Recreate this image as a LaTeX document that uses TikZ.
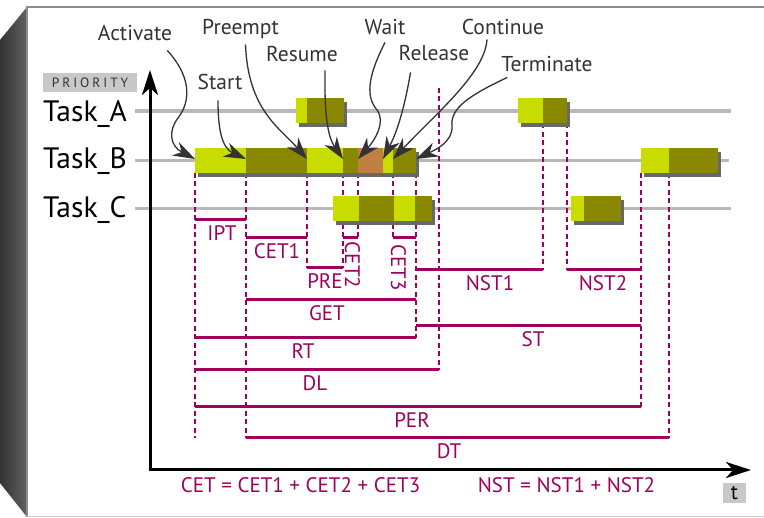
\documentclass[tikz,border=0pt]{standalone}
\usepackage{fontspec}
\setmainfont{PT Sans}
\usepackage{tikz}
\usetikzlibrary{arrows.meta}
\definecolor{limec}{HTML}{C8DC00}
\definecolor{olivc}{HTML}{8A8800}
\definecolor{waitc}{HTML}{C08040}
\definecolor{shdc}{HTML}{686868}
\definecolor{magc}{HTML}{A0005C}
\definecolor{linec}{HTML}{B8B8B8}
\definecolor{txtc}{HTML}{333333}
\definecolor{boxc}{HTML}{C8C8C8}
\tikzset{
  ar/.style={-{Stealth[length=22pt,width=15pt,inset=7pt]},line width=1.3pt,txtc},
  ax/.style={-{Stealth[length=25pt,width=16pt,inset=7pt]},line width=3pt,black},
  ev/.style={font=\fontsize{21.5}{24}\selectfont,txtc,anchor=base,inner sep=1pt},
  tk/.style={font=\fontsize{29.5}{32}\selectfont,black,anchor=base west,inner sep=0pt},
  tl/.style={line width=3.2pt,linec},
  dsh/.style={magc,line width=1.4pt,dash pattern=on 5pt off 3.5pt},
  ms/.style={magc,line width=3pt},
  ml/.style={font=\fontsize{21}{23}\selectfont,magc,inner sep=1pt}
}
\begin{document}
\begin{tikzpicture}[x=1pt,y=-1pt]
\useasboundingbox (0,0) rectangle (764,518);
\fill[white] (0,0) rectangle (764,518);
\shade[left color=black!80,right color=black!62] (0,40) -- (27,7) -- (27,517) -- (0,483) -- cycle;
\draw[black!45,line width=1.5pt] (27,517) -- (27,7) -- (764,7);
\draw[black!20,line width=1.2pt] (27,516.5) -- (764,516.5);
\foreach \y/\xe in {111/731,160.5/729,208.5/731}
  \draw[tl] (135,\y) -- (\xe,\y);
\foreach \x/\ya/\yb in {195/173/438,246/173/438,307/173/268,343/173/268,358/173/238,393/173/238,416/173/338,439/88/370,543/123.5/270,567/123.5/270,641/173/407,669/173/438}
  \draw[dsh] (\x,\ya) -- (\x,\yb);
\foreach \xa/\xb/\yt in {296/344/98.5,518/567/98.5,195/416/148,641/718/148,333/432/196,571/621/196}
  \fill[shdc] (\xa+3,\yt+4) rectangle (\xb+3,\yt+29);
\foreach \xa/\xb/\yt/\cl in {296/307/98.5/limec,307/344/98.5/olivc,518/543/98.5/limec,543/567/98.5/olivc,
  195/246/148/limec,246/307/148/olivc,307/343/148/limec,343/358/148/olivc,358/383/148/waitc,383/393/148/limec,393/416/148/olivc,
  641/669/148/limec,669/718/148/olivc,333/359/196/limec,359/394/196/olivc,394/415/196/limec,415/432/196/olivc,
  571/584/196/limec,584/621/196/olivc}
  \fill[\cl] (\xa,\yt) rectangle (\xb,\yt+25);
\foreach \xa/\xb/\y/\t/\xt in {195/246/220/IPT/222,246/307/238/CET1/277,307/343/268/PRE/325,416/543/270/NST1/490,567/641/270/NST2/603,
  246/416/300/GET/327,416/641/326/ST/533,195/416/338/RT/303,195/439/370/DL/315,195/641/407/PER/412,246/669/438/DT/449}{
  \draw[ms] (\xa,\y) -- (\xb,\y);
  \node[ml] (l\t) at (\xt,\y+13) {\t};}
\draw[ms] (343,238) -- (358,238);
\node[ml,rotate=-90] (lCET2) at (352.5,265) {CET2};
\draw[ms] (393,238) -- (416,238);
\node[ml,rotate=-90] (lCET3) at (398.5,267.5) {CET3};
\node[ml] (fCET) at (300.5,485) {CET = CET1 + CET2 + CET3};
\node[ml] (fNST) at (566.5,485) {NST = NST1 + NST2};
\coordinate (org) at (150,470);
\coordinate (ytop) at (150,70);
\coordinate (xend) at (751,470);
\draw[ax] ([yshift=-1.5pt]org) -- (ytop);
\draw[ax] ([xshift=-1.5pt]org) -- (xend);
\node[fill=boxc,minimum width=94pt,minimum height=19pt,inner sep=0pt,text=txtc,font=\fontsize{13.5}{15}\selectfont\addfontfeatures{LetterSpace=22}] (prio) at (90,82.5) {PRIORITY};
\node[fill=boxc,minimum width=23pt,minimum height=20pt,inner sep=0pt,font=\fontsize{21}{23}\selectfont] (tlab) at (734.5,493) {t};
\node[tk] (tA) at (43,121.5) {Task\_A};
\node[tk] (tB) at (43,169) {Task\_B};
\node[tk] (tC) at (43,218) {Task\_C};
\node[ev] (nAct) at (135,41) {Activate};
\node[ev] (nSta) at (220,90) {Start};
\node[ev] (nPre) at (240.5,35) {Preempt};
\node[ev] (nRes) at (302,62) {Resume};
\node[ev] (nWai) at (385,35) {Wait};
\node[ev] (nRel) at (434,61) {Release};
\node[ev] (nCon) at (503,35) {Continue};
\node[ev] (nTer) at (547,72) {Terminate};
\foreach \n/\x in {Act/195,Sta/246,Pre/307,Res/343,Wai/358,Rel/383,Con/393,Ter/416}
  \coordinate (p\n) at (\x,159);
\draw[ar] ([xshift=-6pt,yshift=-8pt]nAct.south east) .. controls (190,75) and (192,100) .. (178,118) .. controls (168,131) and (170,146) .. (pAct);
\draw[ar] ([xshift=-2pt,yshift=-9pt]nSta.south) .. controls (218,130) and (222,148) .. (pSta);
\draw[ar] ([xshift=5pt,yshift=-4pt]nPre.south) .. controls (248,110) and (280,128) .. (pPre);
\draw[ar] ([xshift=-14pt,yshift=-7pt]nRes.south east) .. controls (324,125) and (330,140) .. (pRes);
\draw[ar] ([yshift=-6pt]nWai.south) .. controls (370,72) and (364,95) .. (377,110) .. controls (386,122) and (375,140) .. (pWai);
\draw[ar] ([xshift=13pt,yshift=-10pt]nRel.south west) .. controls (405,105) and (398,130) .. (pRel);
\draw[ar] ([xshift=-16pt,yshift=-3pt]nCon.south) .. controls (485,72) and (440,110) .. (pCon);
\draw[ar] ([xshift=7pt,yshift=-4pt]nTer.south west) .. controls (470,95) and (450,108) .. (452,126) .. controls (453,142) and (435,150) .. (pTer);
\end{tikzpicture}
\end{document}
